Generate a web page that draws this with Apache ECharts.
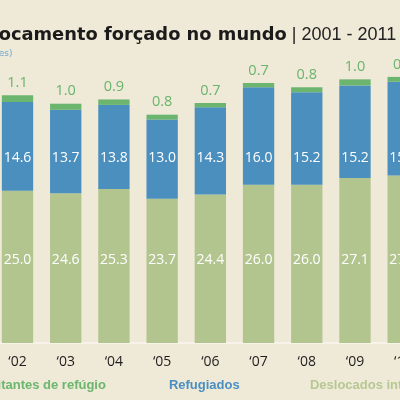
<!DOCTYPE html>
<html>
<head>
<meta charset="utf-8">
<script src="https://cdn.jsdelivr.net/npm/echarts@6/dist/echarts.min.js"></script>
<style>
  html, body { margin: 0; padding: 0; background: #efe9d7; }
  #chart { width: 400px; height: 400px; }
</style>
</head>
<body>
<div id="chart"></div>
<script>
const years = ["‘02", "‘03", "‘04", "‘05", "‘06", "‘07", "‘08", "‘09", "‘10"];
const asylumSeekers = [1.1, 1.0, 0.9, 0.8, 0.7, 0.7, 0.8, 1.0, 0.8];
const refugees = [14.6, 13.7, 13.8, 13.0, 14.3, 16.0, 15.2, 15.2, 15.4];
const displaced = [25.0, 24.6, 25.3, 23.7, 24.4, 26.0, 26.0, 27.1, 27.5];

const chart = echarts.init(document.getElementById("chart"));

const whiteLabel = {
  show: true,
  position: "inside",
  color: "#ffffff",
  fontFamily: "Open Sans",
  fontSize: 14,
  formatter: (p) => p.value.toFixed(1),
};

// labels sit on one row per series, like the original graphic
const rowAt = (y) => (params) => ({
  x: params.rect.x + params.rect.width / 2,
  y: y,
  align: "center",
  verticalAlign: "middle",
});

chart.setOption({
  backgroundColor: "#efe9d7",
  animation: false,
  title: [
    {
      text: "{b|Deslocamento forçado no mundo}{n| | 2001 - 2011}",
      left: -50,
      top: 19,
      textStyle: {
        rich: {
          b: { fontFamily: "DejaVu Sans", fontWeight: "bold", fontSize: 17.85, color: "#1b1b1b", lineHeight: 22 },
          n: { fontFamily: "Liberation Sans", fontWeight: "normal", fontSize: 18, color: "#222222", lineHeight: 22 },
        },
      },
    },
    {
      text: "(em milhões)",
      left: -52,
      top: 44,
      textStyle: { fontFamily: "DejaVu Sans", fontSize: 9, fontWeight: "normal", color: "#6fa6d2" },
    },
  ],
  legend: {
    top: 373,
    left: -43.5,
    width: 700,
    icon: "none",
    itemWidth: 0,
    itemGap: 58,
    selectedMode: false,
    // the middle entry sits a little further from the last one
    formatter: (name) => (name === "Refugiados" ? name + "  " : name),
    textStyle: { fontFamily: "Liberation Sans", fontWeight: "bold", fontSize: 13 },
    data: [
      { name: "Solicitantes de refúgio", textStyle: { color: "#6cb66e" } },
      { name: "Refugiados", textStyle: { color: "#4b8fc2" } },
      { name: "Deslocados internos", textStyle: { color: "#b6c893" } },
    ],
  },
  grid: {
    left: -6.6,
    right: -27.3,
    top: 69,
    bottom: 57,
    outerBoundsMode: "none",
  },
  xAxis: {
    type: "category",
    data: years,
    axisTick: { show: false },
    axisLine: { lineStyle: { color: "#f7f3e8", width: 2 } },
    axisLabel: { color: "#1e1e1e", fontFamily: "Open Sans", fontSize: 14, margin: 12 },
  },
  yAxis: {
    type: "value",
    min: 0,
    max: 45,
    show: false,
    splitLine: { show: false },
  },
  series: [
    {
      name: "Deslocados internos",
      type: "bar",
      stack: "total",
      barWidth: "65%",
      itemStyle: { color: "#b3c58f" },
      label: whiteLabel,
      labelLayout: rowAt(260),
      data: displaced,
    },
    {
      name: "Refugiados",
      type: "bar",
      stack: "total",
      itemStyle: { color: "#4a8fbe" },
      label: whiteLabel,
      labelLayout: rowAt(158),
      data: refugees,
    },
    {
      name: "Solicitantes de refúgio",
      type: "bar",
      stack: "total",
      itemStyle: { color: "#6cb56f" },
      label: {
        show: true,
        position: "top",
        distance: 5,
        color: "#6ab46d",
        fontFamily: "Open Sans",
        fontSize: 14.5,
        formatter: (p) => p.value.toFixed(1),
      },
      data: asylumSeekers,
    },
  ],
});
</script>
</body>
</html>
